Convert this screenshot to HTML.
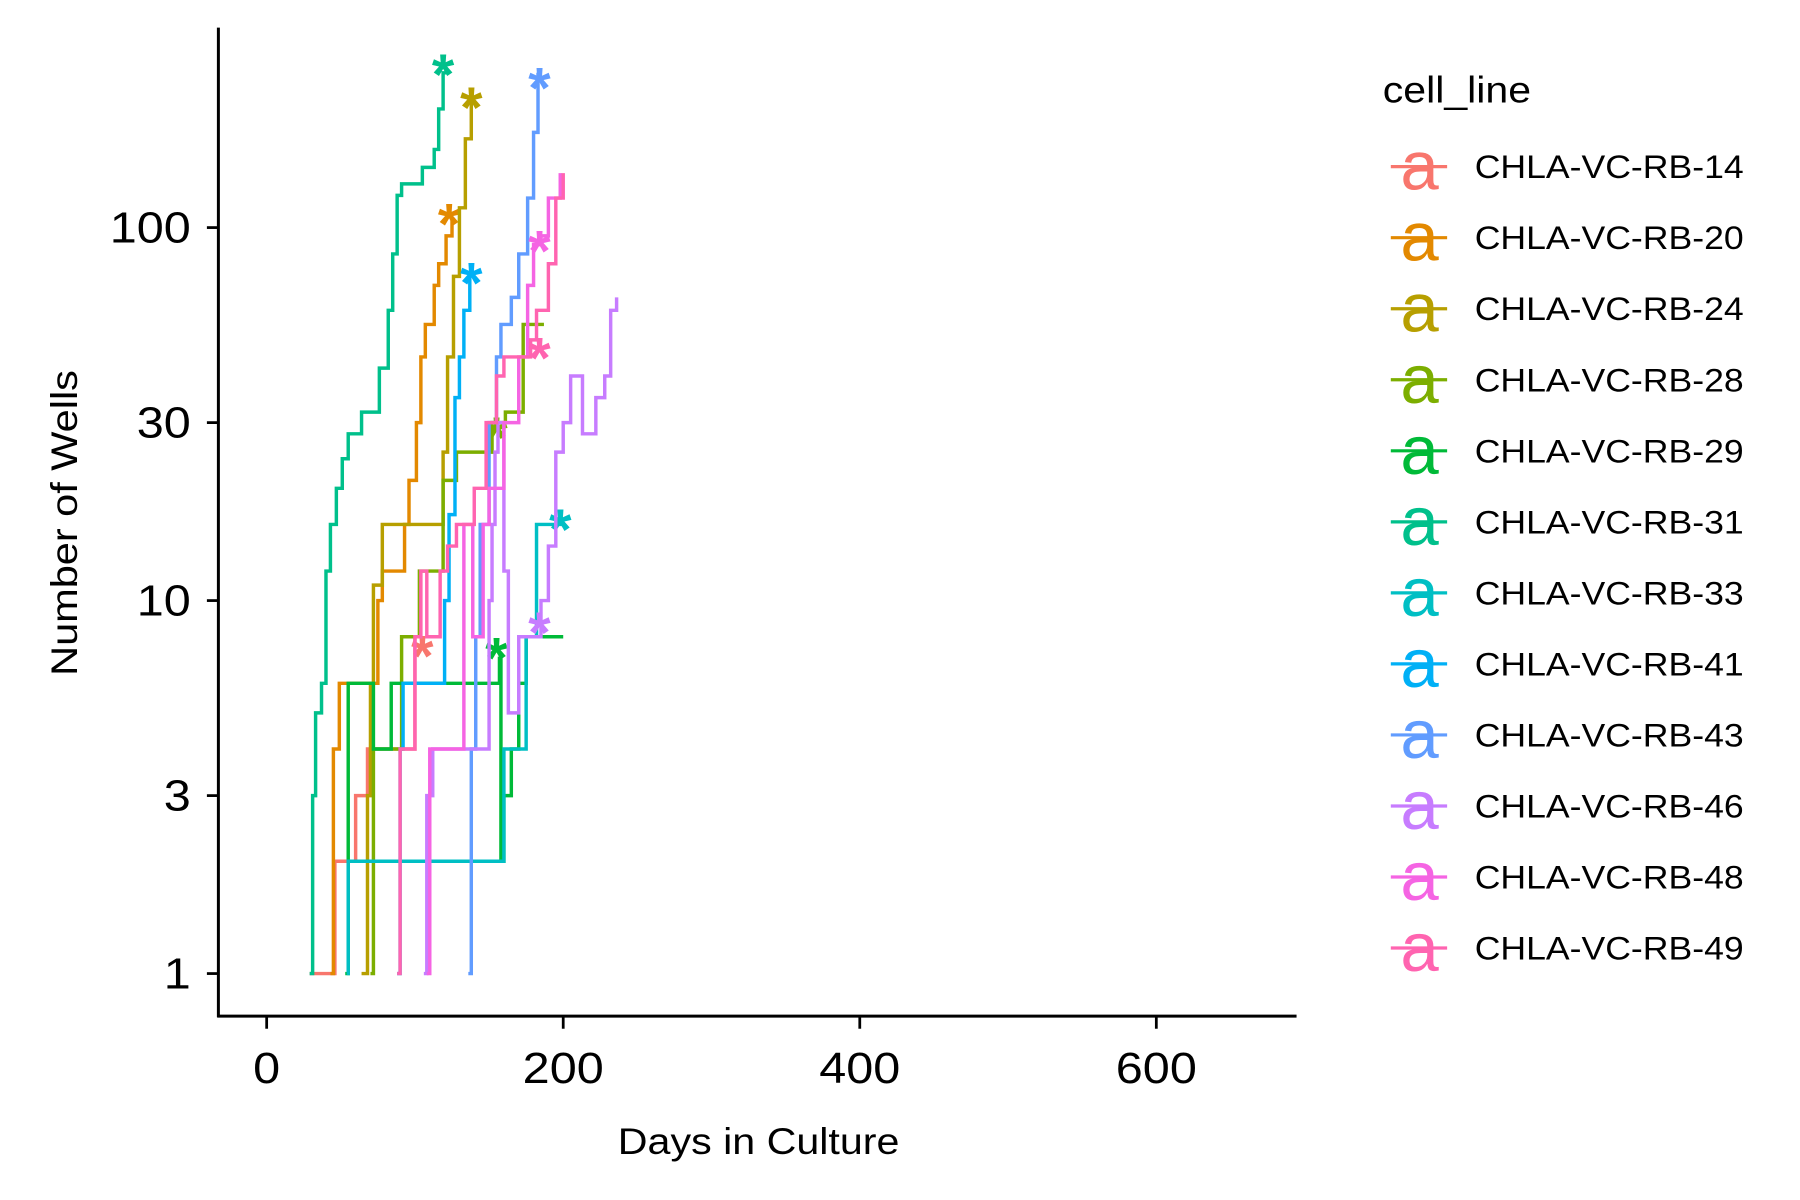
<!DOCTYPE html>
<html><head><meta charset="utf-8"><style>
html,body{margin:0;padding:0;background:#fff;}
svg{display:block;font-family:"Liberation Sans",sans-serif;}
</style></head><body>
<svg id="chart" width="1800" height="1200" viewBox="0 0 1566 1044" preserveAspectRatio="none" xmlns="http://www.w3.org/2000/svg">
<rect width="1566" height="1044" fill="#fff"/>
<g id="plot"></g>
<g id="axes"></g>
<g id="legend"></g>
</svg>
<script>
const seriesNames = ["CHLA-VC-RB-14","CHLA-VC-RB-20","CHLA-VC-RB-24","CHLA-VC-RB-28","CHLA-VC-RB-29","CHLA-VC-RB-31","CHLA-VC-RB-33","CHLA-VC-RB-41","CHLA-VC-RB-43","CHLA-VC-RB-46","CHLA-VC-RB-48","CHLA-VC-RB-49"];
const seriesColors = ["#F8766D","#E38900","#B79F00","#7CAE00","#00BA38","#00C08B","#00BFC4","#00B0F6","#619CFF","#C77CFF","#F564E3","#FF64B0"];
const rb14 = [[29,1],[44,1],[46,2],[58,2],[60,3],[66,3],[68,4],[97,4],[100,8],[104,8]];
const rb20 = [[43,1],[45,4],[49,6],[72,6],[75,10],[78,12],[85,12],[93,16],[96,21],[101,30],[104,45],[107,55],[113,70],[116,80],[121,95],[125,105]];
const rb24 = [[64,1],[68,3],[70,6],[72,11],[78,16],[117,16],[119,25],[122,45],[126,74],[130,113],[134,173],[138,230]];
const rb28 = [[70,1],[72,4],[88,4],[91,8],[101,8],[103,12],[116,12],[119,21],[126,21],[128,25],[150,25],[152,30],[161,32],[173,55],[187,55]];
const rb29 = [[53,1],[55,6],[70,6],[72,4],[82,4],[84,6],[155,6],[157,7],[158,2],[160,3],[165,4],[170,6],[175,8],[200,8]];
const rb31 = [[29,1],[31,3],[33,5],[37,6],[40,12],[43,16],[47,20],[51,24],[55,28],[64,32],[76,42],[82,60],[85,85],[88,122],[91,131],[105,145],[113,162],[116,208],[119,260],[122,260]];
const rb33 = [[54,1],[55,2],[158,2],[160,4],[173,4],[175,8],[180,8],[182,16],[200,16]];
const rb41 = [[88,1],[90,4],[92,6],[118,6],[120,10],[123,17],[127,35],[130,45],[133,60],[137,75]];
const rb43 = [[136,1],[138,4],[141,8],[144,16],[150,30],[155,45],[158,55],[165,65],[170,85],[176,120],[180,180],[183,260]];
const rb46 = [[106,1],[108,3],[112,4],[148,4],[150,10],[152,16],[154,25],[156,30],[160,12],[163,5],[167,5],[170,8],[180,8],[185,10],[190,14],[195,25],[200,30],[205,40],[210,40],[213,28],[218,28],[222,35],[228,40],[232,60],[236,65]];
const rb48 = [[108,1],[110,4],[130,4],[133,16],[137,16],[139,8],[142,8],[146,16],[150,20],[160,30],[170,45],[176,70],[180,90],[185,95],[190,120],[195,120],[198,140]];
const rb49 = [[88,1],[90,4],[100,8],[104,12],[108,8],[112,8],[117,12],[122,14],[128,16],[135,16],[140,20],[148,30],[155,40],[160,45],[170,45],[178,50],[182,60],[190,80],[195,120],[200,140]];
const seriesData = [rb14,rb20,rb24,rb28,rb29,rb31,rb33,rb41,rb43,rb46,rb48,rb49];
const starDays = [105,123,138,155,155,119,198,138,184,184,184,184];
const starWells = [7.8,112,230,30,7.7,282,17,78,260,9,95,49];
const xTicks = [0,200,400,600];
const yTicks = [1,3,10,30,100];

const NS="http://www.w3.org/2000/svg";
function xs(d){return 232 + d*1.29;}
function ys(w){return 847 - Math.log10(w)*324.5;}
function mk(tag, attrs, parent){const e=document.createElementNS(NS,tag);for(const k in attrs)e.setAttribute(k,attrs[k]);parent.appendChild(e);return e;}
const plot=document.getElementById('plot'), axes=document.getElementById('axes'), legend=document.getElementById('legend');

seriesData.forEach((pts,i)=>{
  let d='M'+xs(pts[0][0])+','+ys(pts[0][1]);
  for(let j=1;j<pts.length;j++){d+=' H'+xs(pts[j][0])+' V'+ys(pts[j][1]);}
  const p=mk('path',{d:d,fill:'none',stroke:seriesColors[i],'stroke-width':3},plot);
  
  
  const s=mk('text',{x:xs(starDays[i]),y:ys(starWells[i])+30,'text-anchor':'middle','font-size':50,'font-weight':'bold',fill:seriesColors[i]},plot);
  s.textContent='*';
  
  
});

const ya=mk('line',{x1:190,y1:24,x2:190,y2:885,stroke:'#000','stroke-width':2.6},axes);


const xa=mk('line',{x1:189,y1:884,x2:1128,y2:884,stroke:'#000','stroke-width':2.6},axes);


yTicks.forEach(v=>{
  const y=ys(v);
  const t=mk('line',{x1:180,y1:y,x2:190,y2:y,stroke:'#000','stroke-width':2.4},axes);
  
  
  const s=String(v);
  const l=mk('text',{x:166,y:y+13,'text-anchor':'end','font-size':38,fill:'#000',textLength:s.length*23.5,lengthAdjust:'spacingAndGlyphs'},axes);
  l.textContent=v;
  
  
});
xTicks.forEach(v=>{
  const x=xs(v);
  const t=mk('line',{x1:x,y1:884,x2:x,y2:895,stroke:'#000','stroke-width':2.4},axes);
  
  
  const s=String(v);
  const l=mk('text',{x:x,y:942,'text-anchor':'middle','font-size':38,fill:'#000',textLength:s.length*23.5,lengthAdjust:'spacingAndGlyphs'},axes);
  l.textContent=v;
  
  
});
const xt=mk('text',{x:660,y:1004,'text-anchor':'middle','font-size':32,fill:'#000',textLength:245,lengthAdjust:'spacingAndGlyphs'},axes);
xt.textContent='Days in Culture';


const yt=mk('text',{x:0,y:0,'text-anchor':'middle','font-size':32,fill:'#000',textLength:266,lengthAdjust:'spacingAndGlyphs',transform:'translate(67,455) rotate(-90)'},axes);
yt.textContent='Number of Wells';



const lt=mk('text',{x:1203,y:89,'font-size':32,fill:'#000',textLength:129,lengthAdjust:'spacingAndGlyphs'},legend);
lt.textContent='cell_line';


seriesNames.forEach((n,i)=>{
  const cy=145+61.8*i;
  const g=mk('g',{},legend);
  
  
  mk('line',{x1:1210,y1:cy,x2:1259,y2:cy,stroke:seriesColors[i],'stroke-width':2.8},g);
  const a=mk('text',{x:1235,y:cy+20,'text-anchor':'middle','font-size':60,fill:seriesColors[i]},g);
  a.textContent='a';
  const l=mk('text',{x:1283,y:cy+10,'font-size':28,fill:'#000',textLength:234,lengthAdjust:'spacingAndGlyphs'},g);
  l.textContent=n;
});
</script>
</body></html>
